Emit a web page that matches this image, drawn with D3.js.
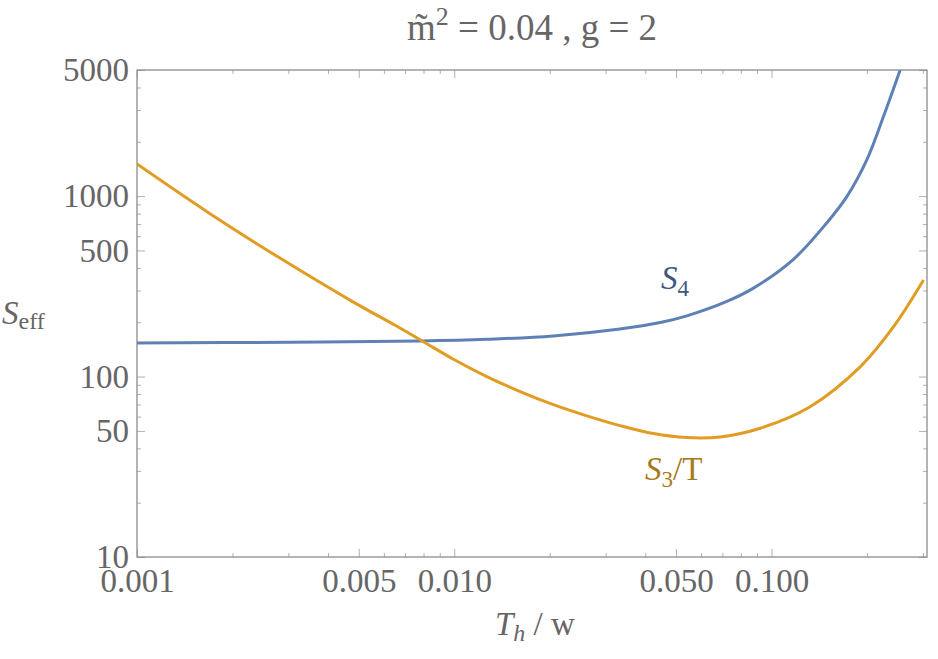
<!DOCTYPE html>
<html>
<head>
<meta charset="utf-8">
<script src="https://cdn.jsdelivr.net/npm/d3@7"></script>
<style>
  body { margin: 0; background: #fff; }
  svg text { font-family: "Liberation Serif", "DejaVu Serif", serif; fill: #666; }
</style>
</head>
<body>
<div id="chart"></div>
<script>
// ---------- data ----------
const xMajor = [0.001, 0.005, 0.01, 0.05, 0.1];
const xMajorLabels = ["0.001", "0.005", "0.010", "0.050", "0.100"];
const xMinor = [0.002, 0.003, 0.004, 0.006, 0.007, 0.008, 0.009,
                0.02, 0.03, 0.04, 0.06, 0.07, 0.08, 0.09, 0.2, 0.3];
const yMajor = [10, 50, 100, 500, 1000, 5000];
const yMinor = [20, 30, 40, 60, 70, 80, 90, 200, 300, 400, 600, 700, 800, 900,
                2000, 3000, 4000];

// S4 (blue)
const s4T = [0.001, 0.003, 0.0078, 0.0127, 0.0205, 0.0333, 0.0446, 0.0541,
             0.0723, 0.0877, 0.1172, 0.149, 0.1727, 0.1996, 0.2253, 0.2543];
const s4S = [153.5, 155, 157.5, 161, 168, 183.6, 199.3, 217,
             260.8, 309, 446.3, 708, 994, 1588, 2761, 5000];

// S3/T (orange)
const s3T = [0.001, 0.00168, 0.00283, 0.00475, 0.00649, 0.0080, 0.00994, 0.01266,
             0.01612, 0.02053, 0.02617, 0.0333, 0.04243, 0.0541, 0.0689, 0.0921,
             0.1323, 0.1906, 0.2424, 0.3013];
const s3S = [1507, 810, 452, 262, 193, 156, 124.7, 100,
             82.6, 69.9, 60.6, 53.5, 48.3, 45.9, 46.3, 51.7,
             68.1, 113.5, 189, 343];

// ---------- layout ----------
const W = 938, H = 659;
const M = { left: 137, right: 927, top: 70, bottom: 557 };
const FONT = 33;

const svg = d3.select("#chart").append("svg")
  .attr("width", W).attr("height", H);

const x = d3.scaleLog().domain([0.001, 0.309]).range([M.left, M.right]);
const y = d3.scaleLog().domain([10, 5000]).range([M.bottom, M.top]);

// minor ticks (all four sides, pointing in)
const tickCol = "#b0b0b0";
function ticks(axis, tr, vals, size) {
  const g = svg.append("g").attr("transform", tr)
    .call(axis.tickValues(vals).tickSize(size).tickFormat(""));
  g.select(".domain").remove();
  g.selectAll("line").attr("stroke", tickCol).attr("stroke-width", 1);
  return g;
}
ticks(d3.axisBottom(x), `translate(0,${M.bottom})`, xMinor, -4);
ticks(d3.axisTop(x), `translate(0,${M.top})`, xMinor, -4);
ticks(d3.axisLeft(y), `translate(${M.left},0)`, yMinor, -4);
ticks(d3.axisRight(y), `translate(${M.right},0)`, yMinor, -4);
ticks(d3.axisTop(x), `translate(0,${M.top})`, xMajor, -8);
ticks(d3.axisRight(y), `translate(${M.right},0)`, yMajor, -8);

// major ticks with labels
const gx = svg.append("g")
  .attr("transform", `translate(0,${M.bottom})`)
  .call(d3.axisBottom(x).tickValues(xMajor).tickSize(-8).tickPadding(12)
    .tickFormat((d, i) => xMajorLabels[i]));
gx.select(".domain").remove();
gx.selectAll("line").attr("stroke", tickCol);
gx.selectAll("text").style("font-size", FONT + "px").attr("fill", "#666");

const gy = svg.append("g")
  .attr("transform", `translate(${M.left},0)`)
  .call(d3.axisLeft(y).tickValues(yMajor).tickSize(-8).tickPadding(8)
    .tickFormat(d3.format("d")));
gy.select(".domain").remove();
gy.selectAll("line").attr("stroke", tickCol);
gy.selectAll("text").style("font-size", FONT + "px").attr("fill", "#666");

// frame
svg.append("rect")
  .attr("x", M.left).attr("y", M.top)
  .attr("width", M.right - M.left).attr("height", M.bottom - M.top)
  .attr("fill", "none").attr("stroke", "#8c8c8c").attr("stroke-width", 1.3);

// curves
svg.append("clipPath").attr("id", "clip")
  .append("rect")
  .attr("x", M.left).attr("y", M.top)
  .attr("width", M.right - M.left).attr("height", M.bottom - M.top);

const line = d3.line()
  .x(d => x(d[0])).y(d => y(d[1]))
  .curve(d3.curveCatmullRom.alpha(0.5));

const plot = svg.append("g").attr("clip-path", "url(#clip)");
plot.append("path")
  .datum(s4T.map((t, i) => [t, s4S[i]]))
  .attr("d", line).attr("fill", "none")
  .attr("stroke", "#5e81b5").attr("stroke-width", 3);
plot.append("path")
  .datum(s3T.map((t, i) => [t, s3S[i]]))
  .attr("d", line).attr("fill", "none")
  .attr("stroke", "#e19c24").attr("stroke-width", 3);

// curve labels
const s4Lab = svg.append("text").attr("x", 661).attr("y", 289)
  .style("font-size", FONT + "px").attr("fill", "#3f5580");
s4Lab.append("tspan").attr("font-style", "italic").attr("fill", "#3f5580").text("S");
s4Lab.append("tspan").attr("dy", 7).style("font-size", "23px").attr("fill", "#3f5580").text("4");

const s3Lab = svg.append("text").attr("x", 645).attr("y", 480)
  .style("font-size", FONT + "px");
s3Lab.append("tspan").attr("font-style", "italic").attr("fill", "#a77a1a").text("S");
s3Lab.append("tspan").attr("dy", 7).style("font-size", "23px").attr("fill", "#a77a1a").text("3");
s3Lab.append("tspan").attr("dy", -7).attr("fill", "#a77a1a").text("/T");

// title
const title = svg.append("text")
  .attr("x", (M.left + M.right) / 2).attr("y", 40)
  .attr("text-anchor", "middle").style("font-size", "37px");
title.append("tspan").text("m\u0303");
title.append("tspan").attr("dy", -15).style("font-size", "26px").text("2");
title.append("tspan").attr("dy", 15).text(" = 0.04 , g = 2");

// axis labels
const yl = svg.append("text").attr("x", 2).attr("y", 324).style("font-size", FONT + "px");
yl.append("tspan").attr("font-style", "italic").text("S");
yl.append("tspan").attr("dy", 5).style("font-size", "24px").text("eff");

const xl = svg.append("text").attr("x", 495).attr("y", 635).style("font-size", FONT + "px");
xl.append("tspan").attr("font-style", "italic").text("T");
xl.append("tspan").attr("dy", 6).attr("font-style", "italic").style("font-size", "24px").text("h");
xl.append("tspan").attr("dy", -6).text(" / w");
</script>
</body>
</html>
